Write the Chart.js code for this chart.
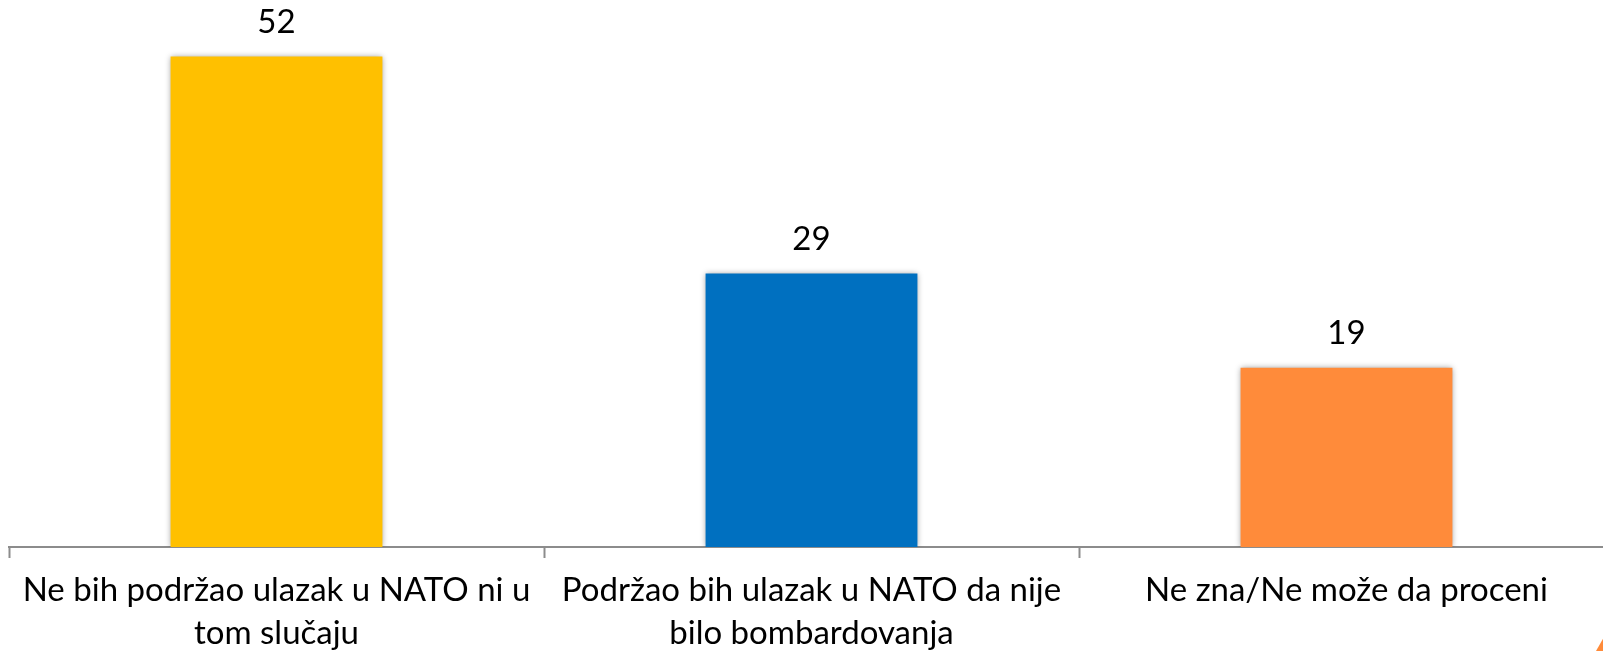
<!DOCTYPE html>
<html>
<head>
<meta charset="utf-8">
<script src="https://cdn.jsdelivr.net/npm/chart.js@4"></script>
<style>
  html, body { margin: 0; padding: 0; background: #fff; overflow: hidden; }
  #wrap { width: 1620px; height: 651px; }
</style>
</head>
<body>
<div id="wrap"><canvas id="chart" width="1620" height="651"></canvas></div>
<script>
// data
const categories = [
    ['Ne bih podržao ulazak u NATO ni u', 'tom slučaju'],
    ['Podržao bih ulazak u NATO da nije', 'bilo bombardovanja'],
    ['Ne zna/Ne može da proceni']
];
const values = [52, 29, 19];
const barColors = ['#FFC000', '#0070C0', '#FF8B3A'];

const FONT = 'Lato, "Open Sans", sans-serif';

// value above each bar
const valueLabels = {
    id: 'valueLabels',
    afterDatasetsDraw(chart) {
        const ctx = chart.ctx;
        const meta = chart.getDatasetMeta(0);
        ctx.save();
        ctx.font = '33px ' + FONT;
        ctx.fillStyle = '#000';
        ctx.textAlign = 'center';
        ctx.textBaseline = 'middle';
        meta.data.forEach((bar, i) => {
            ctx.fillText(String(values[i]), bar.x, bar.y - 34);
        });
        ctx.restore();
    }
};

// soft shadow round the bars
const barShadow = {
    id: 'barShadow',
    beforeDatasetsDraw(chart) {
        const ctx = chart.ctx;
        ctx.save();
        ctx.shadowColor = 'rgba(0, 0, 0, 0.4)';
        ctx.shadowBlur = 6;
        ctx.shadowOffsetX = 0;
        ctx.shadowOffsetY = 0;
    },
    afterDatasetsDraw(chart) {
        chart.ctx.restore();
    }
};

// small orange corner mark, bottom right
const cornerMark = {
    id: 'cornerMark',
    afterDraw(chart) {
        const ctx = chart.ctx;
        ctx.save();
        ctx.fillStyle = '#FF8B3A';
        ctx.beginPath();
        ctx.moveTo(1596, 651);
        ctx.lineTo(1604, 637);
        ctx.lineTo(1604, 651);
        ctx.closePath();
        ctx.fill();
        ctx.restore();
    }
};

const ctx = document.getElementById('chart').getContext('2d');
new Chart(ctx, {
    type: 'bar',
    data: {
        labels: categories,
        datasets: [{
            data: values,
            backgroundColor: barColors,
            borderWidth: 0,
            categoryPercentage: 1,
            barPercentage: 0.396
        }]
    },
    options: {
        responsive: false,
        animation: false,
        layout: { padding: { left: 9, right: 6, top: 0, bottom: 0 } },
        plugins: {
            legend: { display: false },
            tooltip: { enabled: false }
        },
        scales: {
            y: {
                display: false,
                min: 0,
                max: 58
            },
            x: {
                grid: {
                    offset: true,
                    drawOnChartArea: false,
                    drawTicks: true,
                    tickLength: 11,
                    tickWidth: 2,
                    color: '#8c8c8c'
                },
                border: { color: '#8c8c8c', width: 2 },
                ticks: {
                    color: '#000',
                    padding: 10,
                    maxRotation: 0,
                    autoSkip: false,
                    font: { family: FONT, size: 33, lineHeight: 1.33 }
                },
                afterFit(scale) { scale.height = 104; }
            }
        }
    },
    plugins: [barShadow, valueLabels, cornerMark]
});
</script>
</body>
</html>
